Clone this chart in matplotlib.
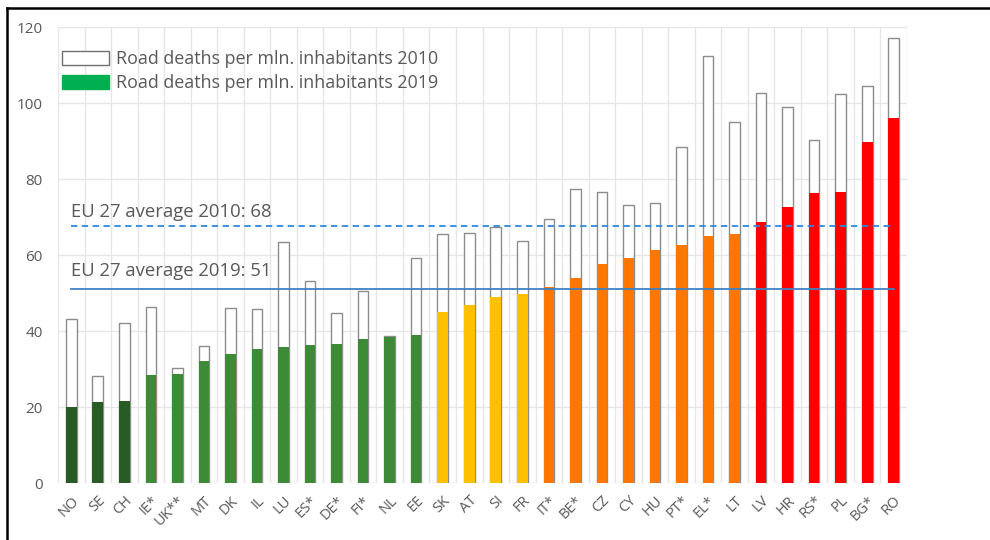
import matplotlib
matplotlib.use("Agg")
import matplotlib.pyplot as plt
from matplotlib.patches import Patch
from matplotlib.lines import Line2D

plt.rcParams['font.family'] = ['Open Sans', 'DejaVu Sans']

countries = ["NO", "SE", "CH", "IE*", "UK**", "MT", "DK", "IL", "LU", "ES*", "DE*", "FI*",
             "NL", "EE", "SK", "AT", "SI", "FR", "IT*", "BE*", "CZ", "CY", "HU", "PT*",
             "EL*", "LT", "LV", "HR", "RS*", "PL", "BG*", "RO"]
deaths_2010 = [43.2, 28.3, 42.1, 46.5, 30.4, 36.2, 46.1, 45.8, 63.6, 53.3, 44.7, 50.7,
               38.7, 59.3, 65.5, 65.9, 67.4, 63.7, 69.5, 77.4, 76.6, 73.2, 73.8, 88.6,
               112.5, 95.2, 102.7, 99.0, 90.3, 102.4, 104.6, 117.1]
deaths_2019 = [20.1, 21.4, 21.7, 28.6, 28.8, 32.3, 34.1, 35.3, 35.8, 36.5, 36.7, 37.9,
               38.4, 39.1, 45.0, 46.9, 48.9, 49.9, 51.7, 54.1, 57.8, 59.3, 61.5, 62.7,
               65.2, 65.7, 68.7, 72.7, 76.4, 76.6, 89.7, 96.1]
avg_2010 = 67.6
avg_2019 = 51.2
avg_2010_label = "EU 27 average 2010: 68"
avg_2019_label = "EU 27 average 2019: 51"
yticks = [0, 20, 40, 60, 80, 100, 120]
legend_labels = ["Road deaths per mln. inhabitants 2010", "Road deaths per mln. inhabitants 2019"]

# colour group of each bar (style)
DKG, GRN, YEL, ORA, RED = "#295B24", "#3D8A37", "#FFC000", "#FF7700", "#FF0000"
bar_colors = [DKG] * 3 + [GRN] * 11 + [YEL] * 4 + [ORA] * 8 + [RED] * 6

TXT = "#595959"
GRID = "#E6E6E6"

fig = plt.figure(figsize=(9.9, 5.4), dpi=100)
ax = fig.add_axes([58 / 990, 1 - 483.3 / 540, (907 - 58) / 990, (483.3 - 27.3) / 540])

x = list(range(len(countries)))
ax.bar(x, deaths_2010, width=0.40, color="white", edgecolor="#8C8C8C", linewidth=1.0, zorder=3)
ax.bar(x, deaths_2019, width=0.40, color=bar_colors, edgecolor="none", zorder=4)

ax.set_xlim(-0.5, len(countries) - 0.5)
ax.set_ylim(0, 120)

# grid
for yv in yticks:
    ax.axhline(yv, color=GRID, lw=1.0, zorder=1)
for b in range(len(countries) + 1):
    ax.axvline(b - 0.5, color=GRID, lw=1.0, zorder=1)

ax.plot([0, len(countries) - 1], [avg_2010, avg_2010], color="#2C87E0", lw=1.3,
        dashes=(3.5, 2.5), zorder=5)
ax.plot([0, len(countries) - 1], [avg_2019, avg_2019], color="#3E82C4", lw=1.3, zorder=5)
ax.text(0, avg_2010 + 2.6, avg_2010_label, color=TXT, fontsize=13.3, ha="left",
        va="baseline", zorder=6)
ax.text(0, avg_2019 + 3.4, avg_2019_label, color=TXT, fontsize=13.3, ha="left",
        va="baseline", zorder=6)

for s in ax.spines.values():
    s.set_visible(False)
ax.set_yticks(yticks)
ax.set_yticklabels([str(v) for v in yticks], color=TXT, fontsize=11)
ax.set_xticks(x)
ax.set_xticklabels(countries, rotation=45, ha="right", va="top", rotation_mode="anchor",
                   color=TXT, fontsize=10.5)
ax.tick_params(axis="both", length=0)
ax.tick_params(axis="y", pad=11)
ax.tick_params(axis="x", pad=7)

handles = [Patch(facecolor="white", edgecolor="#707070", linewidth=1.0),
           Patch(facecolor="#00B050", edgecolor="#00B050")]
leg = ax.legend(handles, legend_labels, loc="upper left", bbox_to_anchor=(62 / 990, 1 - 50 / 540),
                bbox_transform=fig.transFigure, frameon=False, fontsize=12.9,
                handlelength=2.6, handleheight=0.8, handletextpad=0.42,
                labelspacing=0.33, borderpad=0.0, borderaxespad=0.0)
for t in leg.get_texts():
    t.set_color(TXT)

# outer frame (top and left edges of the cropped box)
fig.add_artist(Line2D([7 / 990, 1.0], [1 - 8 / 540, 1 - 8 / 540], color="black", lw=1.8,
                      transform=fig.transFigure))
fig.add_artist(Line2D([7 / 990, 7 / 990], [0.0, 1 - 8 / 540], color="black", lw=1.8,
                      transform=fig.transFigure))

fig.savefig("out.png", dpi=100)
